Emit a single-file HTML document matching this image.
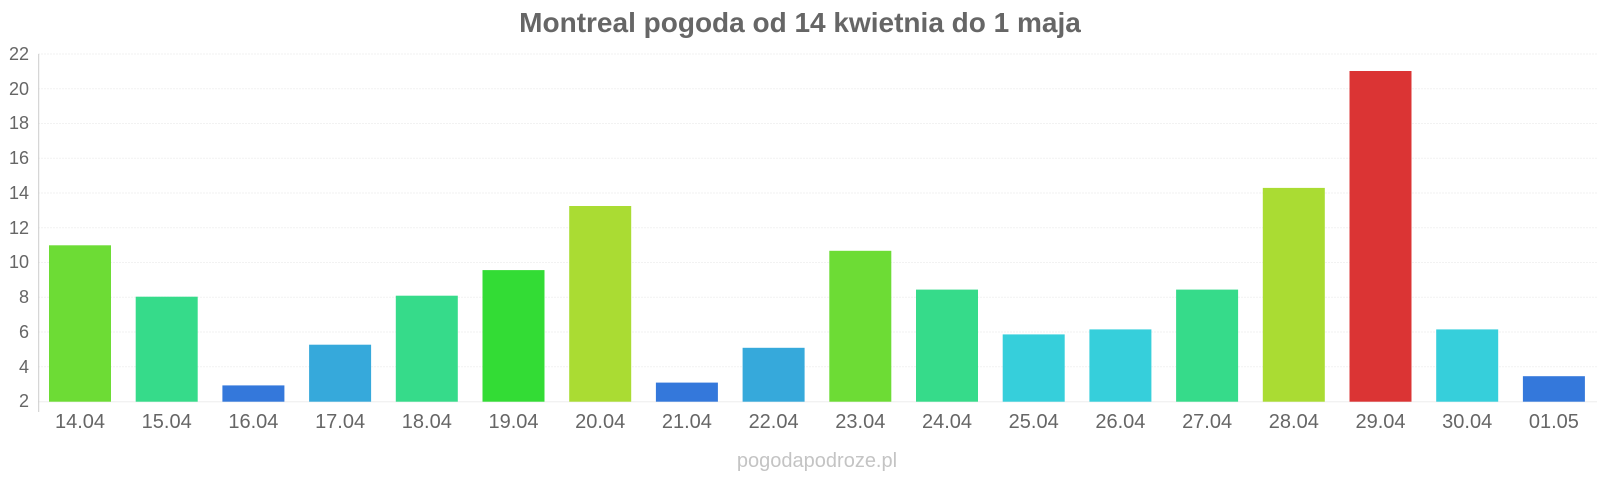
<!DOCTYPE html>
<html><head><meta charset="utf-8"><style>
html,body{margin:0;padding:0;background:#fff;}
svg{display:block;font-family:"Liberation Sans",Arial,sans-serif;}
</style></head><body>
<svg width="1600" height="480" xmlns="http://www.w3.org/2000/svg">
<text x="800" y="32" text-anchor="middle" font-size="28" font-weight="bold" fill="#666">Montreal pogoda od 14 kwietnia do 1 maja</text>
<g stroke="#f2f2f2" stroke-width="1" stroke-dasharray="2,1">
<line x1="38" x2="1597" y1="54" y2="54"/><line x1="38" x2="1597" y1="88.8" y2="88.8"/><line x1="38" x2="1597" y1="123.5" y2="123.5"/><line x1="38" x2="1597" y1="158.3" y2="158.3"/><line x1="38" x2="1597" y1="193" y2="193"/><line x1="38" x2="1597" y1="227.8" y2="227.8"/><line x1="38" x2="1597" y1="262.5" y2="262.5"/><line x1="38" x2="1597" y1="297.3" y2="297.3"/><line x1="38" x2="1597" y1="332" y2="332"/><line x1="38" x2="1597" y1="366.8" y2="366.8"/>
</g>
<line x1="38" x2="1597" y1="401.7" y2="401.7" stroke="#eee"/>
<line x1="38.7" x2="38.7" y1="54" y2="412" stroke="#ccc" stroke-width="1"/>
<g font-size="18" fill="#666" text-anchor="end">
<text x="29" y="60">22</text><text x="29" y="95">20</text><text x="29" y="129">18</text><text x="29" y="164">16</text><text x="29" y="199">14</text><text x="29" y="234">12</text><text x="29" y="268">10</text><text x="29" y="303">8</text><text x="29" y="338">6</text><text x="29" y="373">4</text><text x="29" y="407">2</text>
</g>
<g>
<rect x="49" y="245.3" width="62" height="156.4" fill="#6ddc35"/>
<rect x="135.7" y="296.7" width="62" height="105" fill="#36db8a"/>
<rect x="222.4" y="385.4" width="62" height="16.3" fill="#3478db"/>
<rect x="309.1" y="344.7" width="62" height="57" fill="#36a9db"/>
<rect x="395.8" y="295.7" width="62" height="106" fill="#36db8a"/>
<rect x="482.5" y="270.1" width="62" height="131.6" fill="#33dc35"/>
<rect x="569.2" y="206" width="62" height="195.7" fill="#aadc33"/>
<rect x="655.9" y="382.6" width="62" height="19.1" fill="#3478db"/>
<rect x="742.6" y="347.8" width="62" height="53.9" fill="#36a9db"/>
<rect x="829.3" y="250.8" width="62" height="150.9" fill="#6ddc35"/>
<rect x="916" y="289.6" width="62" height="112.1" fill="#36db8a"/>
<rect x="1002.7" y="334.4" width="62" height="67.3" fill="#36cfdb"/>
<rect x="1089.4" y="329.4" width="62" height="72.3" fill="#36cfdb"/>
<rect x="1176.1" y="289.6" width="62" height="112.1" fill="#36db8a"/>
<rect x="1262.8" y="187.9" width="62" height="213.8" fill="#aadc33"/>
<rect x="1349.5" y="71" width="62" height="330.7" fill="#db3434"/>
<rect x="1436.2" y="329.4" width="62" height="72.3" fill="#36cfdb"/>
<rect x="1522.9" y="376.2" width="62" height="25.5" fill="#3478db"/>
</g>
<g font-size="20" fill="#666" text-anchor="middle">
<text x="80" y="428">14.04</text><text x="166.7" y="428">15.04</text><text x="253.4" y="428">16.04</text><text x="340.1" y="428">17.04</text><text x="426.8" y="428">18.04</text><text x="513.5" y="428">19.04</text><text x="600.2" y="428">20.04</text><text x="686.9" y="428">21.04</text><text x="773.6" y="428">22.04</text><text x="860.3" y="428">23.04</text><text x="947" y="428">24.04</text><text x="1033.7" y="428">25.04</text><text x="1120.4" y="428">26.04</text><text x="1207.1" y="428">27.04</text><text x="1293.8" y="428">28.04</text><text x="1380.5" y="428">29.04</text><text x="1467.2" y="428">30.04</text><text x="1553.9" y="428">01.05</text>
</g>
<text x="817" y="467" text-anchor="middle" font-size="20" fill="#c4c4c4">pogodapodroze.pl</text>
</svg>
</body></html>
